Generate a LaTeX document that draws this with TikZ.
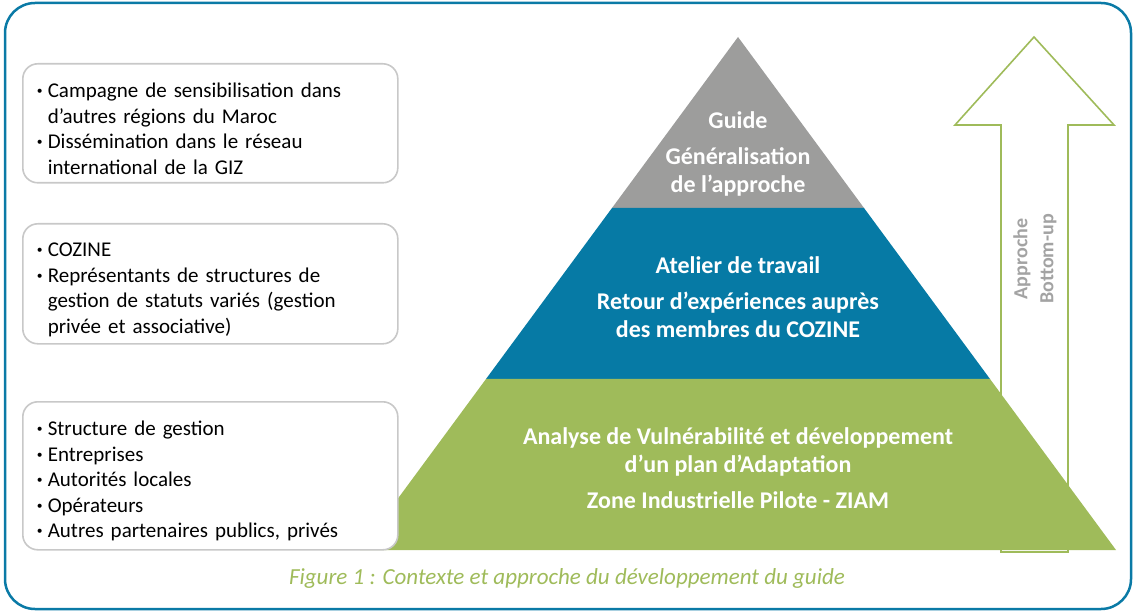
\documentclass[tikz,border=0pt]{standalone}
\usepackage{fontspec}
\setmainfont{Carlito}
\usetikzlibrary{calc}

\definecolor{gizblue}{HTML}{0A7AA6}
\definecolor{pyrgray}{HTML}{9D9D9C}
\definecolor{pyrblue}{HTML}{067AA5}
\definecolor{pyrgreen}{HTML}{9FBB5A}
\definecolor{boxgray}{HTML}{C8C8C8}
\definecolor{uptext}{HTML}{A3A3A3}

\newcommand{\itm}{\par\hangindent=11pt\hangafter=1\noindent\makebox[11pt][l]{\raisebox{0.3ex}{\scalebox{0.55}{\textbullet}}}}

\tikzset{
  infobox/.style = {draw = boxgray, line width = 1.6pt, fill = white, rounded corners = 15pt,
                    anchor = north west, inner xsep = 14pt, text width = 347pt, align = left,
                    font = \fontsize{21}{25.5}\selectfont},
  leveltext/.style = {text = white, align = center, font = \bfseries\fontsize{24}{28}\selectfont},
  uparrow/.style = {draw = pyrgreen, line width = 1.6pt, fill = white}
}

\begin{document}
\begin{tikzpicture}[x = 1pt, y = -1pt]
            \useasboundingbox (0, 0) rectangle (1137, 612);
            \draw [gizblue, line width = 2.5pt, rounded corners = 30pt] (5, 3) rectangle (1131, 609);
            % bottom-up arrow
            \draw [uparrow] (1001, 552) -- (1001, 125) -- (955, 125) -- (1034, 37)
                -- (1114, 125) -- (1068, 125) -- (1068, 552) -- cycle;
            \node [rotate = 90, text = uptext, align = center, font = \bfseries\fontsize{20}{26}\selectfont]
                (bottomup) at (1035, 259) {Approche\\Bottom-up};
            % pyramid
            \coordinate (apex) at (738, 37);
            \coordinate (baseL) at (360, 550);
            \coordinate (baseR) at (1116, 550);
            \fill [pyrgray] (apex) -- ($(apex)!1/3!(baseR)$) -- ($(apex)!1/3!(baseL)$) -- cycle;
            \fill [pyrblue] ($(apex)!1/3!(baseL)$) -- ($(apex)!1/3!(baseR)$)
                -- ($(apex)!2/3!(baseR)$) -- ($(apex)!2/3!(baseL)$) -- cycle;
            \fill [pyrgreen] ($(apex)!2/3!(baseL)$) -- ($(apex)!2/3!(baseR)$) -- (baseR) -- (baseL) -- cycle;
            \node [leveltext] (guide) at (738, 154) {Guide\\[8pt]Généralisation\\de l’approche};
            \node [leveltext] (atelier) at (738, 297) {Atelier de travail\\[8pt]Retour d’expériences auprès\\des membres du COZINE};
            \node [leveltext] (analyse) at (738, 468) {Analyse de Vulnérabilité et développement\\d’un plan d’Adaptation\\[8pt]Zone Industrielle Pilote - ZIAM};
            % stakeholder boxes
            \node [infobox, minimum height = 119pt] (reach) at (22, 63)
                {\itm Campagne de sensibilisation dans\newline d’autres régions du Maroc
                 \itm Dissémination dans le réseau\newline international de la GIZ\par};
            \node [infobox, minimum height = 120pt] (cozine) at (22, 223)
                {\itm COZINE
                 \itm Représentants de structures de\newline gestion de statuts variés (gestion\newline privée et associative)\par};
            \node [infobox, minimum height = 148pt] (actors) at (22, 401)
                {\itm Structure de gestion
                 \itm Entreprises
                 \itm Autorités locales
                 \itm Opérateurs
                 \itm Autres partenaires publics, privés\par};
            \node [text = pyrgreen, font = \itshape\fontsize{23}{27}\selectfont] (caption) at (567, 578)
                {Figure 1 : Contexte et approche du développement du guide};
\end{tikzpicture}
\end{document}
